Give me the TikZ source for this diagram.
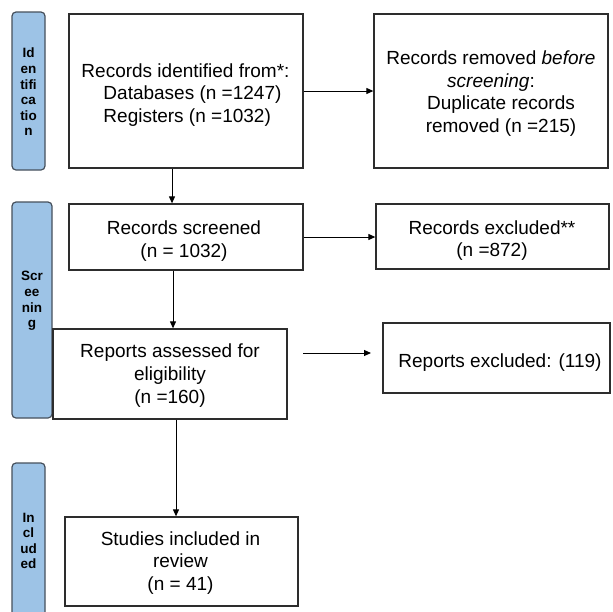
\documentclass[tikz,border=0pt]{standalone}
\usepackage{fontspec}
\setmainfont{Liberation Sans}
\usetikzlibrary{arrows.meta,calc}
\definecolor{barfill}{RGB}{157,195,230}
\definecolor{barline}{RGB}{70,80,92}
\definecolor{boxline}{RGB}{45,45,45}
\begin{document}
\begin{tikzpicture}[x=1pt,y=-1pt,
  box/.style={draw=boxline, line width=1.3pt, fill=white, inner sep=0pt},
  boxtext/.style={font=\fontsize{19}{22.6}\selectfont, align=center, inner sep=0pt},
  bar/.style={draw=barline, line width=1.2pt, fill=barfill, rounded corners=4pt, inner sep=0pt},
  bartext/.style={font=\fontsize{13.5}{15.6}\selectfont\bfseries, align=center, inner sep=0pt, text=black},
  arr/.style={draw=black, line width=1pt, -{Triangle[length=7pt,width=6pt]}}]
\useasboundingbox (0,0) rectangle (613,611);
\fill[white] (0,0) rectangle (613,611);

% side bars
\node[bar, minimum width=33pt, minimum height=158pt] (idbar) at (28.5,91) {};
\node[bartext] (idtext) at (28.5,92) {Id\\en\\tifi\\ca\\tio\\n};
\node[bar, minimum width=40pt, minimum height=216pt] (scbar) at (32,310) {};
\node[bartext] (sctext) at (32,301) {Scr\\ee\\nin\\g};
\begin{scope}
\clip (0,0) rectangle (613,611);
\node[bar, minimum width=33pt, minimum height=170pt] (inbar) at (28.5,548) {};
\end{scope}
\node[bartext] (intext) at (28.5,541) {In\\cl\\ud\\ed};

% boxes
\node[box, minimum width=234pt, minimum height=154pt] (b1) at (186,91) {};
\node[boxtext, align=left] (t1) at (185.5,95)
  {Records identified from*:\\\hspace*{22pt}Databases (n =1247)\\\hspace*{22pt}Registers (n =1032)};
\node[box, minimum width=234pt, minimum height=154pt] (b2) at (491,91) {};
\node[boxtext] (t2) at (491,93.5)
  {Records removed {\itshape before}\\{\itshape screening}:\\\hspace*{20pt}Duplicate records\\\hspace*{20pt}removed (n =215)};
\node[box, minimum width=234pt, minimum height=66pt] (b3) at (186,237) {};
\node[boxtext] (t3) at (184,241) {Records screened\\(n = 1032)};
\node[box, minimum width=233pt, minimum height=65pt] (b4) at (492.5,236.5) {};
\node[boxtext] (t4) at (492,240.5) {Records excluded**\\(n =872)};
\node[box, minimum width=234pt, minimum height=90pt] (b5) at (170,374) {};
\node[boxtext] (t5) at (170,375.5) {Reports assessed for\\eligibility\\(n =160)};
\node[box, minimum width=227pt, minimum height=70pt] (b6) at (496.5,358) {};
\node[boxtext] (t6) at (500,363) {Reports excluded: (119)};
\node[box, minimum width=233pt, minimum height=89pt] (b7) at (181.5,561.5) {};
\node[boxtext] (t7) at (180.5,563) {Studies included in\\review\\(n = 41)};

% connectors
\draw[arr] (b1.east) -- (b2.west);
\draw[arr] ([xshift=-14pt]b1.south) -- ([xshift=-14pt]b1.south |- b3.north);
\draw[arr] (b3.east) -- (b3.east -| b4.west);
\draw[arr] ([xshift=-13pt]b3.south) -- ([xshift=-13pt]b3.south |- b5.north);
\coordinate (r5) at (303,353);
\coordinate (r6) at (371,353);
\draw[arr] (r5) -- (r6);
\draw[arr] ([xshift=6pt]b5.south) -- ([xshift=6pt]b5.south |- b7.north);
\end{tikzpicture}
\end{document}
